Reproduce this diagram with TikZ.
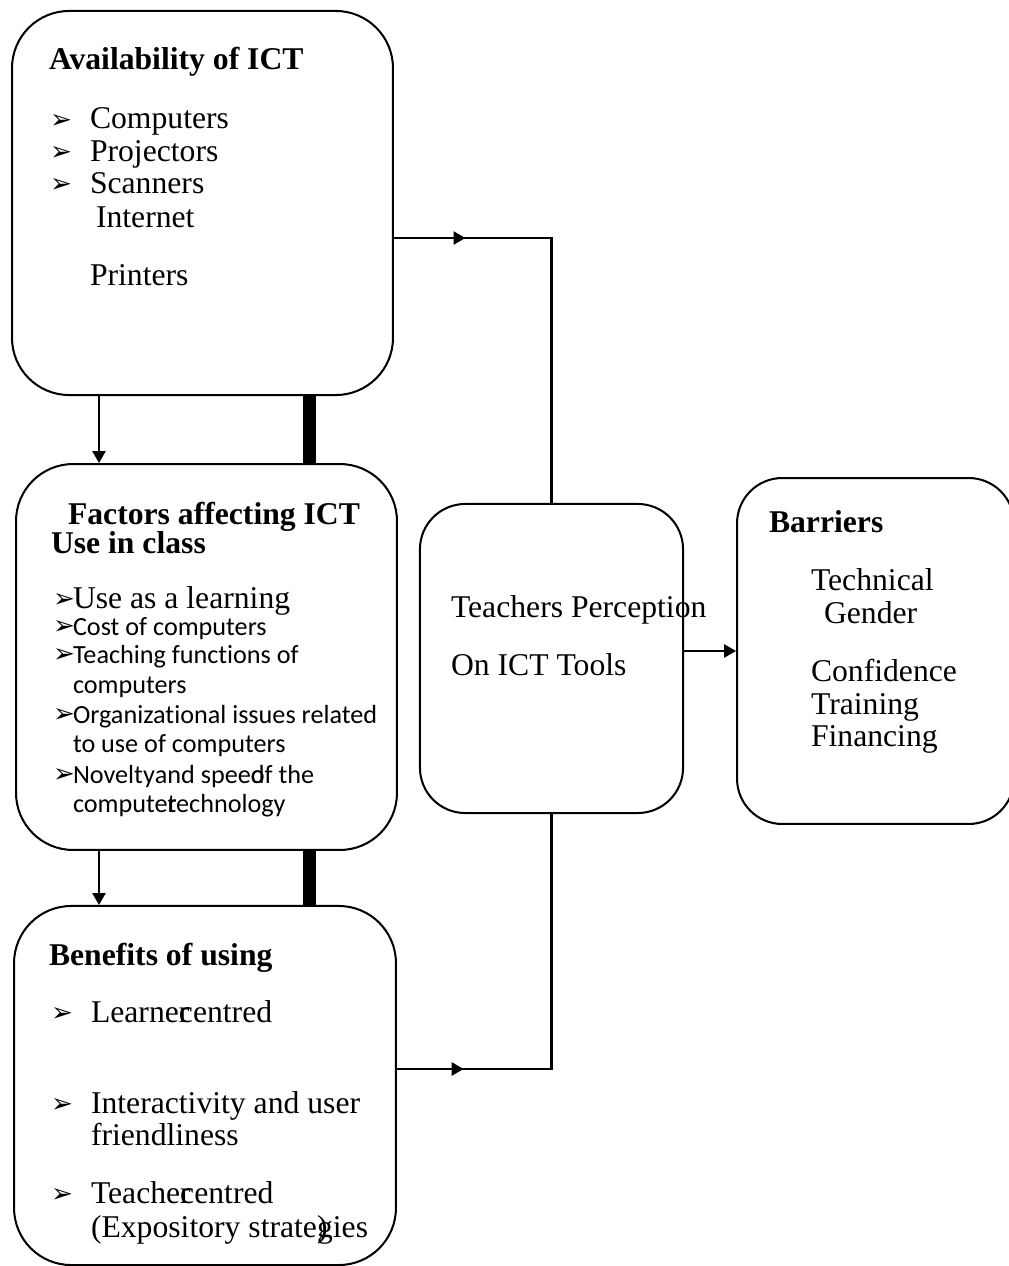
\documentclass[tikz,border=0pt]{standalone}
\usepackage{fontspec}
\setmainfont{Liberation Serif}
\newfontfamily\calfont[Ligatures=NoCommon]{Carlito}
\newfontfamily\symfont{DejaVu Sans}
\usetikzlibrary{arrows.meta,decorations.markings}
\newcommand{\bl}{\raisebox{0.3pt}{\symfont\fontsize{11}{12}\selectfont ➢}}

\begin{document}
\begin{tikzpicture}[x=0.42pt,y=-0.42pt,line width=0.85pt]
\tikzset{
  box/.style={draw,rounded corners=24pt,inner sep=0pt},
  sbox/.style={draw,rounded corners=19pt,inner sep=0pt},
  txt/.style={anchor=base west,inner sep=0pt,font=\fontsize{13.3}{14}\selectfont},
  cal/.style={anchor=base west,inner sep=0pt,font=\calfont\fontsize{11}{13}\selectfont},
  tip/.style={-{Triangle[length=5pt,width=5.5pt]}},
  midtip/.style={postaction=decorate,decoration={markings,
    mark=at position #1 with {\arrow{Triangle[length=5pt,width=5.5pt]}}}},
  bar/.style={line width=5.5pt}
}
\useasboundingbox (0,0) rectangle (1009,1266);

\node[box,minimum width=160pt,minimum height=161.3pt] (avail) at (202.5,203) {};
\node[box,minimum width=160pt,minimum height=162.1pt] (factors) at (206.5,657) {};
\node[box,minimum width=160.4pt,minimum height=150.8pt] (benefits) at (205,1085.5) {};
\node[sbox,minimum width=110.5pt,minimum height=129.8pt] (percep) at (551.5,658.5) {};
\node[sbox,minimum width=116.3pt,minimum height=145.3pt] (barriers) at (875.5,651) {};

\node[txt] (availtitle) at (48,70) {\bfseries Availability of ICT};
\node[txt] (comp) at (49,129) {\makebox[16.8pt][l]{\bl}Computers};
\node[txt] (proj) at (49,161) {\makebox[16.8pt][l]{\bl}Projectors};
\node[txt] (scan) at (49,193) {\makebox[16.8pt][l]{\bl}Scanners};
\node[txt] (inet) at (95,227) {Internet};
\node[txt] (print) at (89,285) {Printers};

\node[txt] (factitle) at (67,524) {\bfseries Factors affecting ICT};
\node[txt] (factitleb) at (50,553) {\bfseries Use in class};
\node[txt] (learn) at (52,608) {\makebox[8.4pt][l]{\bl}Use as a learning};
\node[cal] (cost) at (52,635) {\makebox[8.4pt][l]{\bl}Cost of computers};
\node[cal] (teach) at (52,663) {\makebox[8.4pt][l]{\bl}Teaching functions of};
\node[cal] (teachb) at (72,693) {computers};
\node[cal] (org) at (52,723) {\makebox[8.4pt][l]{\bl}Organizational issues related};
\node[cal] (orgb) at (72,752) {to use of computers};
\node[cal] (nov) at (52,783) {\makebox[8.4pt][l]{\bl}Novelty\rlap{ }and speed\llap{o}f the};
\node[cal] (novb) at (72,812) {compute\rlap{r}technology};

\node[txt] (bentitle) at (48,965) {\bfseries Benefits of using};
\node[txt] (lrn) at (50,1022) {\makebox[16.8pt][l]{\bl}Learne\rlap{r}centred};
\node[txt] (inter) at (50,1113) {\makebox[16.8pt][l]{\bl}Interactivity and user};
\node[txt] (interb) at (90,1145) {friendliness};
\node[txt] (tch) at (50,1203) {\makebox[16.8pt][l]{\bl}Teache\rlap{r}centred};
\node[txt] (tchb) at (90,1237) {(Expository strate\rlap{)}gies};

\node[txt] (perc) at (450,617) {Teachers Perception};
\node[txt] (percb) at (450,675) {On ICT Tools};

\node[txt] (bartitle) at (768,532) {\bfseries Barriers};
\node[txt] (tech) at (810,590) {Technical};
\node[txt] (gend) at (823,623) {Gender};
\node[txt] (conf) at (810,681) {Confidence};
\node[txt] (train) at (810,714) {Training};
\node[txt] (fin) at (810,746) {Financing};

\draw[tip] (99,0 |- avail.south) -- (99,0 |- factors.north);
\draw[bar] (309.5,0 |- avail.south) -- (309.5,0 |- factors.north);
\draw[tip] (99,0 |- factors.south) -- (99,0 |- benefits.north);
\draw[bar] (309.5,0 |- factors.south) -- (309.5,0 |- benefits.north);
\draw[midtip=30pt] (avail.east |- 0,238) -- (percep.north |- 0,238) -- (percep.north);
\draw[midtip=28pt] (benefits.east |- 0,1069) -- (percep.south |- 0,1069) -- (percep.south);
\draw[tip] (percep.east |- barriers.west) -- (barriers.west);
\end{tikzpicture}
\end{document}
